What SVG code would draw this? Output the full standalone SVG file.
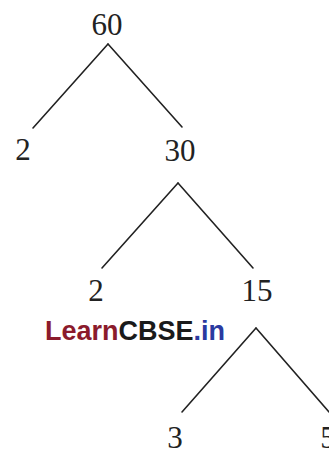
<svg xmlns="http://www.w3.org/2000/svg" width="329" height="451" viewBox="0 0 329 451">
<style>
.n{font-family:"Liberation Serif","Times New Roman",serif;font-size:31px;fill:#222;text-anchor:middle}
.c line{stroke:#222;stroke-width:1.6;stroke-linecap:round}
.w{font-family:"Liberation Sans",Arial,sans-serif;font-weight:bold;font-size:27px}
</style>
<rect width="329" height="451" fill="#fff"/>
<g class="c" id="connectors">
<line x1="108" y1="44" x2="33" y2="128"/>
<line x1="108" y1="44" x2="182" y2="127"/>
<line x1="178" y1="183" x2="102" y2="268"/>
<line x1="178" y1="183" x2="253" y2="268"/>
<line x1="256" y1="328" x2="182" y2="412"/>
<line x1="256" y1="328" x2="329" y2="412"/>
</g>
<g id="n60"><text class="n" x="107" y="35">60</text></g>
<g id="n2a"><text class="n" x="23" y="160">2</text></g>
<g id="n30"><text class="n" x="180" y="161">30</text></g>
<g id="n2b"><text class="n" x="96" y="301">2</text></g>
<g id="n15"><text class="n" x="257" y="301">15</text></g>
<g id="n3"><text class="n" x="175" y="448">3</text></g>
<g id="n5"><text class="n" x="328" y="448">5</text></g>
<g id="watermark"><text class="w" x="45" y="340"><tspan fill="#8b1b2c">Learn</tspan><tspan fill="#1a1a1a">CBSE</tspan><tspan fill="#2a3aa0">.in</tspan></text></g>
</svg>
